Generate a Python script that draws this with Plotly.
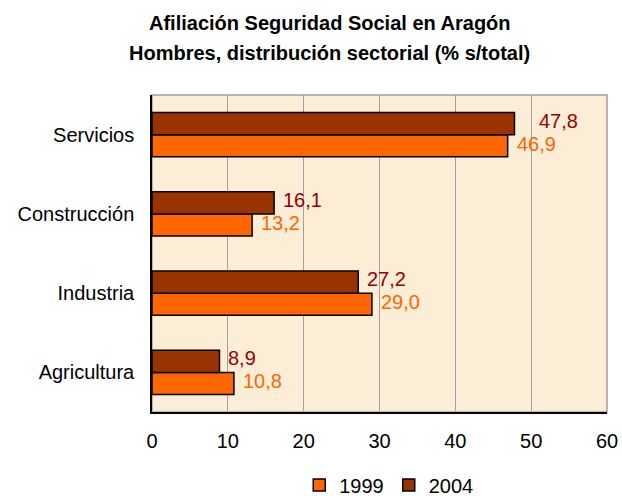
import plotly.graph_objects as go

categories = ["Agricultura", "Industria", "Construcción", "Servicios"]
values_1999 = [10.8, 29.0, 13.2, 46.9]
values_2004 = [8.9, 27.2, 16.1, 47.8]
x_ticks = [0, 10, 20, 30, 40, 50, 60]

FONT = "Arial, Liberation Sans, sans-serif"
C1999 = "#FF6600"
C2004 = "#993300"
L1999 = "#FF6600"
L2004 = "#990000"

def fmt(v):
    return f"{v:.1f}".replace(".", ",")

fig = go.Figure()
fig.add_trace(go.Bar(
    y=categories, x=values_1999, name="1999", orientation="h",
    marker=dict(color=C1999, line=dict(color="black", width=1.5)),
))
fig.add_trace(go.Bar(
    y=categories, x=values_2004, name="2004", orientation="h",
    marker=dict(color=C2004, line=dict(color="black", width=1.5)),
))

annotations = []
for c, v in zip(categories, values_1999):
    annotations.append(dict(x=v, y=c, xref="x", yref="y", text=fmt(v), showarrow=False,
                            xanchor="left", yanchor="middle", xshift=7, yshift=-9,
                            font=dict(family=FONT, size=20, color=L1999)))
for c, v in zip(categories, values_2004):
    shift = 23 if v > 45 else 7
    annotations.append(dict(x=v, y=c, xref="x", yref="y", text=fmt(v), showarrow=False,
                            xanchor="left", yanchor="middle", xshift=shift, yshift=14,
                            font=dict(family=FONT, size=20, color=L2004)))

annotations.append(dict(x=0.391, y=1.226, xref="paper", yref="paper", showarrow=False,
                        text="<b>Afiliación Seguridad Social en Aragón</b>",
                        xanchor="center", yanchor="middle",
                        font=dict(family=FONT, size=20, color="black")))
annotations.append(dict(x=0.391, y=1.134, xref="paper", yref="paper", showarrow=False,
                        text="<b>Hombres, distribución sectorial (% s/total)</b>",
                        xanchor="center", yanchor="middle",
                        font=dict(family=FONT, size=20, color="black")))

fig.update_layout(
    width=622, height=496,
    margin=dict(l=152, r=15, t=95, b=84, autoexpand=False),
    paper_bgcolor="white",
    plot_bgcolor="#FBEDD6",
    barmode="group",
    bargap=0.44,
    bargroupgap=0,
    font=dict(family=FONT, size=20, color="black"),
    showlegend=True,
    legend=dict(orientation="h", x=0.625, xref="container", xanchor="center",
                y=0.022, yref="container", yanchor="middle",
                font=dict(family=FONT, size=20, color="black"),
                itemwidth=30, tracegroupgap=0, traceorder="normal"),
    annotations=annotations,
    xaxis=dict(range=[0, 60], tickvals=x_ticks, ticktext=[str(t) for t in x_ticks],
               showgrid=True, gridcolor="#A0A0A0", gridwidth=1,
               showline=True, linecolor="black", linewidth=1.5, mirror=False,
               ticks="", ticklabelstandoff=10, zeroline=False, automargin=False,
               tickfont=dict(family=FONT, size=20, color="black"), fixedrange=True),
    yaxis=dict(categoryorder="array", categoryarray=categories,
               showline=True, linecolor="black", linewidth=1.5,
               ticks="", ticklabelstandoff=12, showgrid=False, automargin=False,
               tickfont=dict(family=FONT, size=20, color="black"), fixedrange=True),
    shapes=[dict(type="rect", xref="paper", yref="paper", x0=0, x1=1, y0=0, y1=1,
                 line=dict(color="#A0A0A0", width=1.5), layer="below")],
)

fig.write_html(
    "out.html",
    config={"displayModeBar": False},
    post_script="document.documentElement.style.margin='0';"
                "document.body.style.margin='0';"
                "document.body.style.overflow='hidden';",
)
